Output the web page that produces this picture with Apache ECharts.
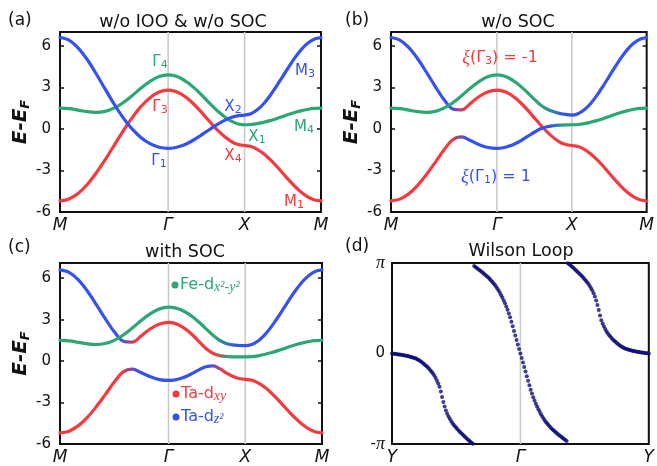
<!DOCTYPE html>
<html>
<head>
<meta charset="utf-8">
<script src="https://cdn.jsdelivr.net/npm/echarts@6/dist/echarts.min.js"></script>
<style>
html, body { margin: 0; padding: 0; background: #fff; }
#chart { width: 657px; height: 466px; }
</style>
</head>
<body>
<div id="chart"></div>
<script>
// ---- k-path samples along M–Γ–X–M (units of π/a) ----
const kPath = [0, 0.1179, 0.2357, 0.3536, 0.4714, 0.5893, 0.7071, 0.8250, 0.9428, 1.0607, 1.1785, 1.2964, 1.4142,
  1.4975, 1.5809, 1.6642, 1.7475, 1.8309, 1.9142, 1.9975, 2.0809, 2.1642, 2.2475, 2.3309, 2.4142,
  2.4975, 2.5809, 2.6642, 2.7475, 2.8309, 2.9142, 2.9975, 3.0809, 3.1642, 3.2475, 3.3309, 3.4142];
const symPoints = [0, 1.4142, 2.4142, 3.4142];
const symLabels = ['M', 'Γ', 'X', 'M'];
const energyTicks = [-6, -3, 0, 3, 6];

// ---- (a) w/o IOO & w/o SOC ----
const dz2A = [6.6, 6.41, 5.86, 5.03, 4.0, 2.89, 1.8, 0.82, 0.0, -0.63, -1.06, -1.32, -1.4,
  -1.36, -1.24, -1.05, -0.8, -0.51, -0.2, 0.11, 0.4, 0.65, 0.84, 0.96, 1.0,
  1.1, 1.38, 1.82, 2.4, 3.08, 3.8, 4.52, 5.2, 5.78, 6.22, 6.5, 6.6];
const dxyA = [-5.2, -5.06, -4.66, -4.03, -3.2, -2.24, -1.2, -0.16, 0.8, 1.63, 2.26, 2.66, 2.8,
  2.73, 2.53, 2.21, 1.8, 1.32, 0.8, 0.28, -0.2, -0.61, -0.93, -1.13, -1.2,
  -1.27, -1.47, -1.79, -2.2, -2.68, -3.2, -3.72, -4.2, -4.61, -4.93, -5.13, -5.2];
const dx2y2A = [1.5, 1.46, 1.36, 1.25, 1.2, 1.27, 1.5, 1.89, 2.4, 2.95, 3.44, 3.78, 3.9,
  3.84, 3.66, 3.37, 3.0, 2.57, 2.1, 1.63, 1.2, 0.83, 0.54, 0.36, 0.3,
  0.32, 0.38, 0.48, 0.6, 0.74, 0.9, 1.06, 1.2, 1.32, 1.42, 1.48, 1.5];

// ---- (b) w/o SOC ----
const upperB = [6.6, 6.42, 5.89, 5.09, 4.11, 3.08, 2.12, 1.44, 1.38, 1.84, 2.34, 2.68, 2.8,
  2.73, 2.53, 2.21, 1.8, 1.32, 0.8, 0.28, -0.2, -0.61, -0.93, -1.13, -1.2,
  -1.27, -1.47, -1.79, -2.2, -2.68, -3.2, -3.72, -4.2, -4.61, -4.93, -5.13, -5.2];
const middleB = [1.5, 1.46, 1.36, 1.25, 1.2, 1.27, 1.5, 1.89, 2.4, 2.95, 3.44, 3.78, 3.9,
  3.84, 3.66, 3.37, 3.0, 2.58, 2.14, 1.73, 1.44, 1.25, 1.12, 1.05, 1.0,
  1.1, 1.38, 1.82, 2.4, 3.08, 3.8, 4.52, 5.2, 5.78, 6.22, 6.5, 6.6];
const lowerB = [-5.2, -5.07, -4.69, -4.09, -3.31, -2.43, -1.52, -0.78, -0.58, -0.84, -1.14, -1.34, -1.4,
  -1.36, -1.24, -1.05, -0.8, -0.52, -0.24, 0.01, 0.16, 0.23, 0.27, 0.29, 0.3,
  0.32, 0.38, 0.48, 0.6, 0.74, 0.9, 1.06, 1.2, 1.32, 1.42, 1.48, 1.5];

// ---- (c) with SOC ----
const upperC = [6.6, 6.42, 5.89, 5.09, 4.11, 3.08, 2.12, 1.44, 1.38, 1.84, 2.34, 2.68, 2.8,
  2.73, 2.52, 2.2, 1.78, 1.3, 0.86, 0.55, 0.4, 0.34, 0.31, 0.3, 0.3,
  0.32, 0.38, 0.48, 0.6, 0.74, 0.9, 1.06, 1.2, 1.32, 1.42, 1.48, 1.5];
const middleC = [1.5, 1.46, 1.36, 1.25, 1.2, 1.27, 1.5, 1.89, 2.4, 2.95, 3.44, 3.78, 3.9,
  3.85, 3.7, 3.45, 3.12, 2.72, 2.28, 1.85, 1.5, 1.28, 1.17, 1.13, 1.12,
  1.2, 1.46, 1.88, 2.44, 3.1, 3.81, 4.53, 5.2, 5.78, 6.22, 6.5, 6.6];
const lowerC = [-5.2, -5.07, -4.69, -4.09, -3.31, -2.43, -1.52, -0.78, -0.58, -0.84, -1.14, -1.34, -1.4,
  -1.36, -1.24, -1.06, -0.82, -0.57, -0.39, -0.35, -0.55, -0.85, -1.1, -1.26, -1.32,
  -1.38, -1.57, -1.88, -2.28, -2.74, -3.24, -3.74, -4.2, -4.61, -4.93, -5.13, -5.2];

// ---- (d) Wilson loop phase θ/π, sampled uniformly from Y through Γ to Y ----
const wilsonTicks = [0, 100, 200];
const wilsonLabels = ['Y', 'Γ', 'Y'];
const phaseTicks = [-1, 0, 1];
const wilsonPhase = [
  0, -0.002, -0.004, -0.006, -0.008, -0.010, -0.012, -0.014, -0.016, -0.019, -0.022, -0.025, -0.028, -0.031,
  -0.035, -0.039, -0.043, -0.048, -0.053, -0.059, -0.066, -0.074, -0.084, -0.095, -0.106, -0.117, -0.129,
  -0.141, -0.155, -0.170, -0.187, -0.205, -0.225, -0.247, -0.272, -0.300, -0.332, -0.367, -0.42, -0.48,
  -0.535, -0.586, -0.630, -0.666, -0.696, -0.722, -0.746, -0.767, -0.787, -0.804, -0.821, -0.838, -0.853,
  -0.868, -0.882, -0.896, -0.910, -0.924, -0.937, -0.950, -0.962, -0.974, -0.986, -0.998,
  0.967, 0.955, 0.944, 0.933, 0.922, 0.911, 0.900, 0.889, 0.877, 0.865, 0.852, 0.839, 0.825, 0.810, 0.794,
  0.777, 0.759, 0.739, 0.718, 0.695, 0.671, 0.645, 0.617, 0.587, 0.555, 0.520, 0.483, 0.443, 0.40, 0.35,
  0.30, 0.25, 0.20, 0.15, 0.10, 0.05, 0, -0.05, -0.10, -0.15, -0.20, -0.25, -0.30, -0.35, -0.40, -0.443,
  -0.483, -0.520, -0.555, -0.587, -0.617, -0.645, -0.671, -0.695, -0.718, -0.739, -0.759, -0.777, -0.794,
  -0.810, -0.825, -0.839, -0.852, -0.865, -0.877, -0.889, -0.900, -0.911, -0.922, -0.933, -0.944, -0.955, -0.967,
  0.998, 0.986, 0.974, 0.962, 0.950, 0.937, 0.924, 0.910, 0.896, 0.882, 0.868, 0.853, 0.838, 0.821, 0.804,
  0.787, 0.767, 0.746, 0.722, 0.696, 0.666, 0.630, 0.586, 0.535, 0.48, 0.42, 0.367, 0.332, 0.300, 0.272,
  0.247, 0.225, 0.205, 0.187, 0.170, 0.155, 0.141, 0.129, 0.117, 0.106, 0.095, 0.084, 0.074, 0.066, 0.059,
  0.053, 0.048, 0.043, 0.039, 0.035, 0.031, 0.028, 0.025, 0.022, 0.019, 0.016, 0.014, 0.012, 0.010, 0.008,
  0.006, 0.004, 0.002, 0
];

// ---- styling ----
const RED = '#f43a3e';
const BLUE = '#3352ee';
const GREEN = '#2ca673';
const NAVY = '#0c0c78';
const GUIDE = '#c8c8c8';
const INK = '#111';
const SANS = "'DejaVu Sans', sans-serif";
const SERIF = "'Liberation Serif', 'DejaVu Serif', serif";
const kMax = symPoints[symPoints.length - 1];

const chart = echarts.init(document.getElementById('chart'), null, { renderer: 'canvas' });

const gridBoxes = [
  { left: 60, top: 32, width: 261, height: 180 },
  { left: 391, top: 32, width: 261, height: 180 },
  { left: 60, top: 263, width: 262, height: 182 },
  { left: 392, top: 263, width: 262, height: 181 }
];
const eMax = [7, 7, 7.1];

function gradient(stops) {
  return {
    type: 'linear', x: 0, y: 0, x2: 1, y2: 0,
    colorStops: stops.map(([k, c]) => ({ offset: k / kMax, color: c }))
  };
}

function nearestLabel(v, ticks, labels) {
  let best = 0;
  ticks.forEach((t, i) => { if (Math.abs(t - v) < Math.abs(ticks[best] - v)) best = i; });
  return labels[best];
}

const grids = gridBoxes.map(b => Object.assign({ show: true, borderColor: INK, borderWidth: 2, backgroundColor: 'transparent' }, b));

const kLabelStyle = { margin: 5, fontFamily: SANS, fontStyle: 'italic', fontSize: 17, color: INK };
const xAxes = [0, 1, 2].map(g => ({
  type: 'value', gridIndex: g, min: 0, max: kMax,
  axisLine: { show: false }, splitLine: { show: false }, axisTick: { show: false },
  axisLabel: Object.assign({
    customValues: symPoints,
    formatter: v => nearestLabel(v, symPoints, symLabels)
  }, kLabelStyle)
}));
xAxes.push({
  type: 'value', gridIndex: 3, min: 0, max: 200,
  axisLine: { show: false }, splitLine: { show: false }, axisTick: { show: false },
  axisLabel: Object.assign({
    customValues: wilsonTicks,
    formatter: v => nearestLabel(v, wilsonTicks, wilsonLabels)
  }, kLabelStyle)
});

const eName = {
  name: '{e|E-E}{f|F}', nameLocation: 'middle', nameGap: 25, nameRotate: 90,
  nameTextStyle: {
    color: INK,
    rich: {
      e: { fontFamily: SANS, fontStyle: 'italic', fontWeight: 'bold', fontSize: 20, lineHeight: 22 },
      f: { fontFamily: SANS, fontStyle: 'italic', fontWeight: 'bold', fontSize: 13, lineHeight: 10, verticalAlign: 'bottom' }
    }
  }
};

const yLeft = [0, 1, 2].map(g => Object.assign({
  type: 'value', gridIndex: g, min: -6, max: eMax[g],
  axisLine: { show: false }, splitLine: { show: false },
  axisTick: { inside: true, length: 4, customValues: energyTicks, lineStyle: { color: INK, width: 1.5 } },
  axisLabel: { customValues: energyTicks, margin: 9, fontFamily: SANS, fontSize: 15, color: INK }
}, eName));
yLeft.push({
  type: 'value', gridIndex: 3, min: -1, max: 1,
  axisLine: { show: false }, splitLine: { show: false },
  axisTick: { inside: true, length: 4, customValues: phaseTicks, lineStyle: { color: INK, width: 1.5 } },
  axisLabel: {
    customValues: phaseTicks, margin: 7, color: INK,
    formatter: v => (v > 0.5 ? '{p|π}' : v < -0.5 ? '{n|-}{p|π}' : '{n|0}'),
    rich: {
      p: { fontFamily: SERIF, fontStyle: 'italic', fontSize: 18 },
      n: { fontFamily: SANS, fontSize: 15 }
    }
  }
});
const yRight = [0, 1, 2].map(g => ({
  type: 'value', gridIndex: g, min: -6, max: eMax[g], position: 'right',
  axisLine: { show: false }, splitLine: { show: false }, axisLabel: { show: false },
  axisTick: { inside: true, length: 4, customValues: energyTicks, lineStyle: { color: INK, width: 1.5 } }
}));

function band(g, values, color, z) {
  return {
    type: 'line', xAxisIndex: g, yAxisIndex: g, z: z || 3,
    data: kPath.map((k, i) => [k, values[i]]),
    smooth: 0.35, showSymbol: false, silent: true,
    lineStyle: { width: 3.2, color: color, cap: 'round' }
  };
}

function guide(g, x, ymin, ymax) {
  return {
    type: 'line', xAxisIndex: g, yAxisIndex: g, z: 1,
    data: [[x, ymin], [x, ymax]], showSymbol: false, silent: true,
    lineStyle: { width: 1.5, color: GUIDE }
  };
}

const series = [];
[0, 1, 2].forEach(g => {
  series.push(guide(g, symPoints[1], -6, eMax[g]));
  series.push(guide(g, symPoints[2], -6, eMax[g]));
});
series.push(guide(3, wilsonTicks[1], -1, 1));

// (a)
series.push(band(0, dxyA, RED));
series.push(band(0, dx2y2A, GREEN));
series.push(band(0, dz2A, BLUE));
// (b)
series.push(band(1, upperB, gradient([[0, BLUE], [0.80, BLUE], [1.02, RED], [kMax, RED]])));
series.push(band(1, lowerB, gradient([[0, RED], [0.82, RED], [1.03, BLUE], [2.12, BLUE], [2.30, GREEN], [kMax, GREEN]])));
series.push(band(1, middleB, gradient([[0, GREEN], [2.02, GREEN], [2.30, BLUE], [kMax, BLUE]])));
// (c)
series.push(band(2, upperC, gradient([[0, BLUE], [0.80, BLUE], [1.02, RED], [1.98, RED], [2.20, GREEN], [kMax, GREEN]])));
series.push(band(2, lowerC, gradient([[0, RED], [0.82, RED], [1.03, BLUE], [1.93, BLUE], [2.12, RED], [kMax, RED]])));
series.push(band(2, middleC, gradient([[0, GREEN], [2.00, GREEN], [2.28, BLUE], [kMax, BLUE]])));
// (d)
series.push({
  type: 'scatter', xAxisIndex: 3, yAxisIndex: 3, z: 3, silent: true,
  data: wilsonPhase.map((t, i) => [i, t]),
  symbol: 'circle', symbolSize: 4,
  itemStyle: { color: NAVY }
});

// ---- text annotations ----
const subRich = (size, sub) => ({
  m: { fontFamily: SANS, fontSize: size, lineHeight: size + 2 },
  s: { fontFamily: SANS, fontSize: sub, lineHeight: 8, verticalAlign: 'bottom' },
  x: { fontFamily: SERIF, fontStyle: 'italic', fontSize: size + 2, lineHeight: size + 2 },
  i: { fontFamily: SERIF, fontStyle: 'italic', fontSize: sub, lineHeight: 8, verticalAlign: 'bottom' }
});

function text(x, y, str, fill, opts) {
  opts = opts || {};
  const style = {
    text: str, fill: fill || INK,
    fontFamily: opts.family || SANS, fontSize: opts.size || 15,
    align: opts.align || 'center', verticalAlign: 'middle',
    textAlign: opts.align || 'center', textVerticalAlign: 'middle'
  };
  if (opts.rich) style.rich = opts.rich;
  return { type: 'text', x: x, y: y, z: 10, silent: true, style: style };
}

const lbl = subRich(15, 11);
const graphics = [
  text(8, 21, '(a)', INK, { align: 'left', size: 17 }),
  text(345, 21, '(b)', INK, { align: 'left', size: 17 }),
  text(8, 248, '(c)', INK, { align: 'left', size: 17 }),
  text(345, 247, '(d)', INK, { align: 'left', size: 17 }),
  text(183, 22, 'w/o IOO & w/o SOC', INK, { size: 17.5 }),
  text(518, 22, 'w/o SOC', INK, { size: 17.5 }),
  text(185, 252, 'with SOC', INK, { size: 17.5 }),
  text(521, 251, 'Wilson Loop', INK, { size: 17.5 }),

  text(160, 62, '{m|Γ}{s|4}', GREEN, { rich: lbl }),
  text(160, 107, '{m|Γ}{s|3}', RED, { rich: lbl }),
  text(159, 161, '{m|Γ}{s|1}', BLUE, { rich: lbl }),
  text(233, 107, '{m|X}{s|2}', BLUE, { rich: lbl }),
  text(257, 137, '{m|X}{s|1}', GREEN, { rich: lbl }),
  text(233, 156, '{m|X}{s|4}', RED, { rich: lbl }),
  text(305, 71, '{m|M}{s|3}', BLUE, { rich: lbl }),
  text(304, 127, '{m|M}{s|4}', GREEN, { rich: lbl }),
  text(294, 202, '{m|M}{s|1}', RED, { rich: lbl }),

  text(500, 58, '{x|ξ}{m|(Γ}{s|3}{m|) = -1}', RED, { rich: subRich(16, 11) }),
  text(496, 177, '{x|ξ}{m|(Γ}{s|1}{m|) = 1}', BLUE, { rich: subRich(16, 11) }),

  { type: 'circle', shape: { cx: 175, cy: 285, r: 3.5 }, style: { fill: GREEN }, z: 10, silent: true },
  { type: 'circle', shape: { cx: 176, cy: 394, r: 3.5 }, style: { fill: RED }, z: 10, silent: true },
  { type: 'circle', shape: { cx: 176, cy: 417, r: 3.5 }, style: { fill: BLUE }, z: 10, silent: true },
  text(180, 285, '{m|Fe-d}{i|x²-y²}', GREEN, { align: 'left', rich: subRich(16, 14) }),
  text(181, 394, '{m|Ta-d}{i|xy}', RED, { align: 'left', rich: subRich(16, 14) }),
  text(181, 417, '{m|Ta-d}{i|z²}', BLUE, { align: 'left', rich: subRich(16, 14) })
];

chart.setOption({
  animation: false,
  backgroundColor: '#fff',
  grid: grids,
  xAxis: xAxes,
  yAxis: yLeft.concat(yRight),
  series: series,
  graphic: graphics
});
</script>
</body>
</html>
